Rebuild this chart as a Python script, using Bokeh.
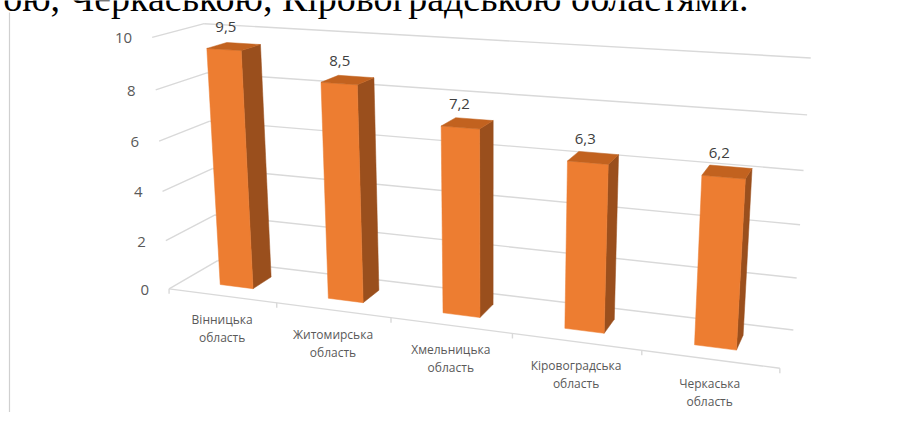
import numpy as np
from bokeh.plotting import figure
from bokeh.models import Range1d
from bokeh.embed import file_html
from bokeh.resources import INLINE
from bokeh.core.properties import value

# ---------------- data ----------------
categories = ["Вінницька область", "Житомирська область", "Хмельницька область",
              "Кіровоградська область", "Черкаська область"]
values = [9.5, 8.5, 7.2, 6.3, 6.2]
y_ticks = [0, 2, 4, 6, 8, 10]
caption = "ою, Черкаською, Кіровоградською областями."

# ---------------- 3-D projection (layout) ----------------
# world: X = category slot (0..5), Y = value (0..10), Z = depth (0 front .. 1 back)
# calibrated against the chart box corners on the page (pixels)
CAL_WORLD = [(0, 0, 0), (5, 0, 0), (5, 0, 1), (5, 10, 1), (5, 8, 1), (0, 10, 1),
             (0, 8, 1), (0, 10, 0), (0, 8, 0), (1, 0, 0), (3, 0, 0), (4, 0, 0), (2, 0, 0)]
CAL_PIX = [(168, 288), (778, 369), (793, 329), (810, 57), (807, 114), (205, 24),
           (205, 72.7), (151.7, 36.7), (155, 89), (277, 302), (512, 333), (642, 350), (391, 317)]

W = np.array(CAL_WORLD, float)
P = np.array(CAL_PIX, float)
pm = P.mean(0)
ps = P.std()
Pn = (P - pm) / ps
rows = []
for (X, Y, Z), (u, v) in zip(W, Pn):
    rows.append([X, Y, Z, 1, 0, 0, 0, 0, -u * X, -u * Y, -u * Z, -u])
    rows.append([0, 0, 0, 0, X, Y, Z, 1, -v * X, -v * Y, -v * Z, -v])
_, _, Vt = np.linalg.svd(np.array(rows))
M = Vt[-1].reshape(3, 4)


def proj(X, Y, Z):
    h = M @ np.array([X, Y, Z, 1.0])
    return float(h[0] / h[2] * ps + pm[0]), float(h[1] / h[2] * ps + pm[1])


N = len(categories)
BAR_W = 0.31
BAR_D = 0.40
ZC = 0.5

FRONT = "#ED7D31"
SIDE = "#9A4F1D"
TOP = "#C2621F"
GRID = "#D9D9D9"
LABEL = "#595959"

p = figure(width=884, height=412, x_range=Range1d(0, 884), y_range=Range1d(412, 0),
           output_backend="svg", toolbar_location=None, min_border=0)
p.xaxis.visible = False
p.yaxis.visible = False
p.xgrid.visible = False
p.ygrid.visible = False
p.outline_line_color = None
p.background_fill_color = "white"

# page frame line on the left
p.segment(x0=[9], y0=[12], x1=[9], y1=[420], line_color="#D0D0D0", line_width=1.2)

# caption text (document line above the chart, cut at the top)
p.text(x=[748], y=[-3], text=[caption], text_align="right", text_baseline="middle",
       text_font=value("Liberation Serif"), text_font_size="38px", text_color="black")

# gridlines: back wall and left wall
gx, gy = [], []
for t in y_ticks:
    a = proj(0, t, 1)
    b = proj(N, t, 1)
    gx.append([a[0], b[0]]); gy.append([a[1], b[1]])
    c = proj(0, t, 0)
    gx.append([c[0], a[0]]); gy.append([c[1], a[1]])
# category axis line (front floor edge)
a = proj(0, 0, 0); b = proj(N, 0, 0)
gx.append([a[0], b[0]]); gy.append([a[1], b[1]])
p.multi_line(xs=gx, ys=gy, line_color=GRID, line_width=1.4)

# category ticks
tk = [proj(k, 0, 0) for k in range(N + 1)]
p.segment(x0=[t[0] for t in tk], y0=[t[1] for t in tk], x1=[t[0] for t in tk],
          y1=[t[1] + 5 for t in tk], line_color=GRID, line_width=1.4)

# y tick labels
yl = [proj(0, t, 0) for t in y_ticks]
p.text(x=[q[0] for q in yl], y=[q[1] for q in yl], text=[str(t) for t in y_ticks],
       x_offset=-20, y_offset=1, text_align="right", text_baseline="middle",
       text_font=value("Open Sans"), text_font_size="15px", text_color=LABEL)

# bars
fx, fy, sx, sy, tx, ty = [], [], [], [], [], []
for i, v in enumerate(values):
    x0 = i + 0.5 - BAR_W / 2
    x1 = i + 0.5 + BAR_W / 2
    z0 = ZC - BAR_D / 2
    z1 = ZC + BAR_D / 2
    front = [proj(x0, 0, z0), proj(x1, 0, z0), proj(x1, v, z0), proj(x0, v, z0)]
    side = [proj(x1, 0, z0), proj(x1, 0, z1), proj(x1, v, z1), proj(x1, v, z0)]
    top = [proj(x0, v, z0), proj(x1, v, z0), proj(x1, v, z1), proj(x0, v, z1)]
    fx.append([q[0] for q in front]); fy.append([q[1] for q in front])
    sx.append([q[0] for q in side]); sy.append([q[1] for q in side])
    tx.append([q[0] for q in top]); ty.append([q[1] for q in top])
p.patches(xs=sx, ys=sy, fill_color=SIDE, line_color=SIDE, line_width=0.5)
p.patches(xs=fx, ys=fy, fill_color=FRONT, line_color=FRONT, line_width=0.5)
p.patches(xs=tx, ys=ty, fill_color=TOP, line_color=TOP, line_width=0.5)

# value labels
vl = [proj(i + 0.5, v, ZC) for i, v in enumerate(values)]
p.text(x=[q[0] for q in vl], y=[q[1] for q in vl],
       text=[f"{v:.1f}".replace(".", ",") for v in values],
       x_offset=-8, y_offset=-19, text_align="center", text_baseline="middle",
       text_font=value("Open Sans"), text_font_size="15px", text_color="#404040")

# category labels (two lines)
cl = [proj(i + 0.5, 0, 0) for i in range(N)]
line1 = [c.split(" ")[0] for c in categories]
line2 = [" ".join(c.split(" ")[1:]) for c in categories]
p.text(x=[q[0] for q in cl], y=[q[1] for q in cl], text=line1, y_offset=24,
       text_align="center", text_baseline="middle",
       text_font=value("Open Sans"), text_font_size="12px", text_color=LABEL)
p.text(x=[q[0] for q in cl], y=[q[1] for q in cl], text=line2, y_offset=42,
       text_align="center", text_baseline="middle",
       text_font=value("Open Sans"), text_font_size="12px", text_color=LABEL)

open("out.html", "w").write(file_html(p, INLINE))
